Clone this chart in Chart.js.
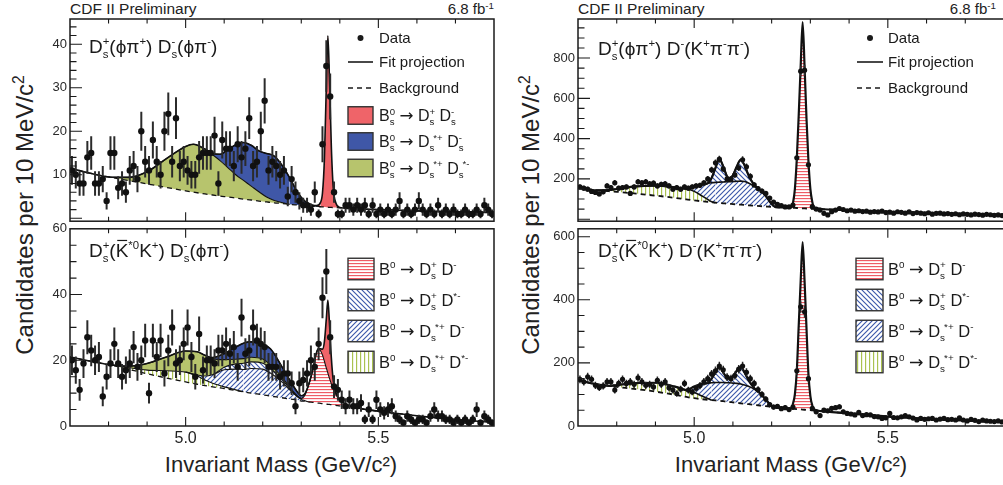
<!DOCTYPE html>
<html lang="en">
<head>
<meta charset="UTF-8">
<title>CDF II Preliminary - Bs and B0 to DD</title>
<script src="https://cdn.jsdelivr.net/npm/chart.js@4.4.1/dist/chart.umd.min.js"></script>
<style>
  html, body { margin: 0; padding: 0; background: #fff; overflow: hidden; }
  body { width: 1003px; height: 485px; position: relative; font-family: "Liberation Sans", Arial, sans-serif; color: #222; }
  canvas { position: absolute; }
  .t { position: absolute; white-space: nowrap; line-height: 1; }
  .t sup { font-size: 0.65em; vertical-align: 0.55em; line-height: 0; }
  .yt { position: absolute; white-space: nowrap; line-height: 1; font-size: 24px; transform: translate(-50%, -50%) rotate(-90deg); }
  .yt sup { font-size: 0.65em; vertical-align: 0.6em; line-height: 0; }
  .xt { position: absolute; white-space: nowrap; line-height: 1; font-size: 22px; transform: translate(-50%, -50%); }
</style>
</head>
<body>
<div class="t" style="left:70px;top:1px;font-size:15.5px">CDF II Preliminary</div>
<div class="t" style="right:509px;top:1px;font-size:15px">6.8 fb<sup>-1</sup></div>
<div class="t" style="left:578px;top:1px;font-size:15.5px">CDF II Preliminary</div>
<div class="t" style="right:7px;top:1px;font-size:15px">6.8 fb<sup>-1</sup></div>
<div class="yt" style="left:25px;top:215px">Candidates per 10 MeV/c<sup>2</sup></div>
<div class="yt" style="left:531px;top:215px">Candidates per 10 MeV/c<sup>2</sup></div>
<div class="xt" style="left:281px;top:465px">Invariant Mass (GeV/c²)</div>
<div class="xt" style="left:791px;top:465px">Invariant Mass (GeV/c²)</div>

<script>
const FONT = '"Liberation Sans", Arial, sans-serif';

// histogram bins: 10 MeV wide from 4.70 to 5.80 GeV
const binCenters = Array.from({ length: 110 }, (_, i) => +(4.705 + 0.01 * i).toFixed(3));
const xLabels = [5.0, 5.5];
const xTicks = [4.8, 4.9, 5.0, 5.1, 5.2, 5.3, 5.4, 5.5, 5.6, 5.7];

// ---------- top left: Ds(phi pi) Ds(phi pi) ----------
const yLabelsTL = [10, 20, 30, 40];
const countsTL = [11,10,8,8,14,15,8,8,9,4, 15,15,7,8,6,11,12,9,20,13,
  11,18,13,10,20,24,13,23,12,13, 11,10,10,14,15,15,15,19,8,18,
  16,16,12,17,14,16,23,12,13,20, 27,11,13,12,10,11,5,9,6,4,
  3,3,2,6,1,17,35,28,6,1, 1,3,3,2,3,2,3,1,3,1,
  2,1,2,1,2,4,1,2,1,2, 4,2,1,2,1,3,1,2,1,2, 1,1,2,1,1,2,1,3,2,1];
const massTL = [4.70,4.75,4.80,4.85,4.90,4.95,5.00,5.02,5.05,5.07,5.09,5.11,5.13,5.15,5.17,5.19,5.21,5.23,5.25,5.27,5.29,5.31,5.33,
  5.34,5.35,5.355,5.36,5.365,5.369,5.373,5.378,5.383,5.39,5.40,5.45,5.50,5.55,5.60,5.65,5.70,5.75,5.80];
const bkgTL = [11.5,10.4,9.5,8.7,7.9,7.1,6.3,6.0,5.6,5.35,5.1,4.9,4.65,4.4,4.2,3.95,3.75,3.55,3.4,3.2,3.05,2.9,2.75,
  2.7,2.65,2.6,2.6,2.55,2.55,2.5,2.5,2.45,2.45,2.4,2.15,2.0,1.85,1.7,1.6,1.5,1.4,1.3];
const bsDsStarDsStarTL = [0,0,0,0.7,2.8,6.6,10.2,11.0,10.3,9.25,8.1,6.7,5.35,4.3,3.2,2.15,1.15,0.55,0.2,0,0,0,0,
  0,0,0,0,0,0,0,0,0,0,0,0,0,0,0,0,0,0,0];
const bsDsStarDsTL = [0,0,0,0,0,0,0,0,0,0.3,1.5,4.2,6.9,8.7,9.4,9.4,10.0,10.2,8.6,6.1,2.95,1.0,0.25,
  0.1,0,0,0,0,0,0,0,0,0,0,0,0,0,0,0,0,0,0];
const bsDsDsTL = [0,0,0,0,0,0,0,0,0,0,0,0,0,0,0,0,0,0,0,0,0,0,0,
  0.1,1.0,3.2,11,28,39.4,30,14,4.5,1.0,0.1,0,0,0,0,0,0,0,0];

// ---------- bottom left: Ds(K*K) Ds(phi pi) ----------
const yLabelsBL = [0, 20, 40, 60];
const countsBL = [20,17,11,19,27,23,20,21,9,15, 19,25,19,15,17,19,24,18,20,26,
  10,26,21,26,16,23,30,19,20,25, 30,21,15,28,17,20,20,19,23,23,
  25,22,24,18,33,22,23,30,26,25, 24,18,18,18,15,16,16,13,6,13,
  14,16,20,18,25,39,47,27,12,11, 8,6,8,6,6,7,2,5,2,8,
  5,4,5,6,3,2,1,3,2,1, 2,2,1,3,5,3,3,2,2,1, 2,1,2,1,2,5,1,3,2,1];
const massBL = [4.70,4.75,4.80,4.85,4.90,4.95,5.00,5.03,5.05,5.07,5.10,5.13,5.15,5.17,5.20,5.22,5.25,5.27,5.29,5.30,5.31,5.32,5.33,
  5.34,5.345,5.35,5.355,5.36,5.365,5.369,5.373,5.378,5.383,5.39,5.40,5.42,5.45,5.50,5.55,5.60,5.65,5.70,5.75,5.80];
const bkgBL = [21.0,19.8,18.7,17.3,15.9,14.6,13.4,12.7,12.3,11.9,11.4,10.8,10.4,10.0,9.5,9.1,8.6,8.2,7.9,7.6,7.5,7.3,7.2,
  7.0,6.95,6.9,6.8,6.7,6.65,6.6,6.55,6.5,6.4,6.3,6.1,5.8,5.3,4.5,3.8,3.1,2.5,2.0,1.5,1.1];
const bdDsStarDStarBL = [0,0,0,0.5,1.1,2.2,3.0,2.5,1.7,1.1,0.5,0.2,0,0,0,0,0,0,0,0,0,0,0,
  0,0,0,0,0,0,0,0,0,0,0,0,0,0,0,0,0,0,0,0,0];
const bdDsStarDBL = [0,0,0,0,0,0,0,0.3,1.2,2.6,5.2,6.3,6.8,7.5,7.8,7.0,4.8,2.8,1.0,0.5,0.2,0,0,
  0,0,0,0,0,0,0,0,0,0,0,0,0,0,0,0,0,0,0,0,0];
const bdDsDStarBL = [0,0,0,0,0,0,0,0,0,0,0.8,1.6,1.9,2.0,1.8,1.4,0.8,0.4,0.1,0,0,0,0,
  0,0,0,0,0,0,0,0,0,0,0,0,0,0,0,0,0,0,0,0,0];
const bdDsDBL = [0,0,0,0,0,0,0,0,0,0,0,0,0,0,0,0,0,0,0,0.3,1.8,5.5,10.0,
  15.5,16.6,16.0,14.8,13.0,11.0,9.5,8.0,6.3,4.8,3.2,1.9,0.6,0.1,0,0,0,0,0,0,0];
const bsDsStarDsStarBL = [0,0,0,0.4,2.0,4.2,6.4,7.1,6.3,4.9,2.3,1.4,1.4,1.4,1.3,1.1,0.7,0.4,0.15,0,0,0,0,
  0,0,0,0,0,0,0,0,0,0,0,0,0,0,0,0,0,0,0,0,0];
const bsDsStarDsBL = [0,0,0,0,0,0,0,0,0,0.3,1.8,3.7,4.7,4.7,4.4,4.9,3.1,2.2,1.2,0.8,0.4,0.1,0,
  0,0,0,0,0,0,0,0,0,0,0,0,0,0,0,0,0,0,0,0,0];
const bsDsDsBL = [0,0,0,0,0,0,0,0,0,0,0,0,0,0,0,0,0,0,0,0,0,0,0,
  0,0,0.6,1.8,6,15,22.2,17,8,2.6,0.6,0,0,0,0,0,0,0,0,0,0];

// ---------- right panels: B0 -> D(K pi pi) ----------
const massR = [4.70,4.75,4.78,4.80,4.85,4.90,4.95,4.98,5.00,5.02,5.035,5.045,5.055,5.065,5.075,5.085,5.092,5.10,5.11,5.12,
  5.13,5.14,5.155,5.17,5.185,5.20,5.21,5.23,5.25,5.256,5.26,5.265,5.27,5.275,5.28,5.285,5.29,5.295,5.30,5.305,
  5.31,5.35,5.40,5.50,5.60,5.70,5.80];

const yLabelsTR = [200, 400, 600, 800];
const countsTR = [160,154,149,138,133,125,136,165,157,181, 154,157,160,128,160,186,181,186,176,179,
  165,173,176,165,149,157,149,160,154,160, 165,168,180,200,245,280,298,250,200,200,
  220,255,295,260,213,170,152,140,128,105, 85,74,68,61,61,70,305,735,740,270,
  62,50,45,29,21,37,45,53,48,42, 45,40,42,38,40,35,38,36,40,33,
  35,30,37,34,30,36,28,33,30,27, 32,25,29,30,26,28,24,27,22,26, 24,21,25,23,20,24,22,19,21,18];
const bkgTR = [157,143,139,136,127,117,106,98,93,89, 86,84,82,80.5,79,77.5,76.5,75,73.5,72,
  70.5,69,67,65,63,61,60,58.5,57,56.5, 56,55.5,55,54.5,54,53.5,53,52.5,52,51.5, 51,48,44,37,31,26,21];
const bdDsStarDStarTR = [0,0,6,14,36,49,52,53,45,27, 12,3,0,0,0,0,0,0,0,0,
  0,0,0,0,0,0,0,0,0,0, 0,0,0,0,0,0,0,0,0,0, 0,0,0,0,0,0,0];
const bdDsStarDTR = [0,0,0,0,0,0,0,0,22,56, 80,94,101,103.5,106,108.5,109.5,112,114.5,117,
  116.5,111,98,80,52,14,0,0,0,0, 0,0,0,0,0,0,0,0,0,0, 0,0,0,0,0,0,0];
const bdDsDStarTR = [0,0,0,0,0,0,0,0,0,0, 0,24,72,115,77,26,17,31,73.5,106,
  81,40,5,0,0,0,0,0,0,0, 0,0,0,0,0,0,0,0,0,0, 0,0,0,0,0,0,0];
const bdDsDTR = [0,0,0,0,0,0,0,0,0,0, 0,0,0,0,0,0,0,0,0,0,
  0,0,0,0,0,0,0,0,0,33.5, 94,244.5,465,705.5,925,706.5,447,237.5,98,33.5, 7,0,0,0,0,0,0];

const yLabelsBR = [0, 200, 400, 600];
const countsBR = [148,140,156,148,129,122,127,140,140,114, 135,148,135,140,132,153,140,129,132,124,
  145,132,140,121,114,103,117,135,114,108, 120,128,140,150,165,175,190,178,155,150,
  160,180,190,170,150,135,115,100,85,68, 60,62,55,58,52,60,175,378,362,150,
  56,45,33,50,48,56,58,61,45,40, 38,35,43,33,36,35,30,29,24,26,
  40,27,26,29,33,29,25,19,24,21, 23,24,19,22,24,20,21,19,26,19, 16,21,18,14,19,16,15,14,16,13];
const bkgBR = [145,132,127,124,117,109,99,92,88,85, 83,82,81,80,78.5,77,76,75,73.5,72,
  70.5,69,67,65,63,61,60,58,55,54.5, 54,53.5,53,52.5,52,51.5,51,50.5,50,49.5, 49,45,40,30,23,17,12];
const bdDsStarDStarBR = [0,0,0,6,19,28,26,22,18,10, 4,0,0,0,0,0,0,0,0,0,
  0,0,0,0,0,0,0,0,0,0, 0,0,0,0,0,0,0,0,0,0, 0,0,0,0,0,0,0];
const bdDsStarDBR = [0,0,0,0,0,0,0,0,19,38, 49,55,57,58,59.5,60,61,61,61.5,61,
  59.5,57,50,39,21,2,0,0,0,0, 0,0,0,0,0,0,0,0,0,0, 0,0,0,0,0,0,0];
const bdDsDStarBR = [0,0,0,0,0,0,0,0,0,0, 0,13,32,50,32,15,13,22,40,55,
  40,20,3,0,0,0,0,0,0,0, 0,0,0,0,0,0,0,0,0,0, 0,0,0,0,0,0,0];
const bdDsDBR = [0,0,0,0,0,0,0,0,0,0, 0,0,0,0,0,0,0,0,0,0,
  0,0,0,0,0,0,0,0,0,20.5, 46,121.5,267,407.5,531,408.5,259,114.5,45,15.5, 3,0,0,0,0,0,0];

// ---------- fills ----------
function hatch(kind, color) {
  const s = kind === 'h' ? 3 : (kind === 'v' ? 4 : 5);
  const c = document.createElement('canvas');
  c.width = s; c.height = s;
  const g = c.getContext('2d');
  g.fillStyle = '#fff';
  g.fillRect(0, 0, s, s);
  g.strokeStyle = color;
  g.lineWidth = 1.15;
  g.beginPath();
  if (kind === 'h') { g.moveTo(0, 0.6); g.lineTo(s, 0.6); }
  else if (kind === 'v') { g.moveTo(0.6, 0); g.lineTo(0.6, s); }
  else if (kind === '/') {
    g.moveTo(-1, s + 1); g.lineTo(s + 1, -1);
    g.moveTo(-1, 1); g.lineTo(1, -1);
    g.moveTo(s - 1, s + 1); g.lineTo(s + 1, s - 1);
  } else {
    g.moveTo(-1, -1); g.lineTo(s + 1, s + 1);
    g.moveTo(s - 1, -1); g.lineTo(s + 1, 1);
    g.moveTo(-1, s - 1); g.lineTo(1, s + 1);
  }
  g.stroke();
  return g.createPattern(c, 'repeat');
}
const F = {
  red: '#ef6469',
  blue: '#3f57a7',
  olive: '#b7c46d',
  redH: hatch('h', '#ee5c66'),
  blueA: hatch('/', '#3d59aa'),
  blueB: hatch('\\', '#3d59aa'),
  greenV: hatch('v', '#a8c14c')
};

// ---------- text helpers ----------
const S = (sup, sub, after) => ({ sup, sub, after });
const ARROW = { arrow: true };

function richText(ctx, x, y, parts, size) {
  let cx = x;
  const small = size * 0.6;
  ctx.fillStyle = '#1a1a1a';
  ctx.strokeStyle = '#1a1a1a';
  ctx.textAlign = 'left';
  ctx.textBaseline = 'alphabetic';
  parts.forEach(p => {
    if (typeof p === 'string') {
      ctx.font = size + 'px ' + FONT;
      ctx.fillText(p, cx, y);
      cx += ctx.measureText(p).width;
    } else if (p.arrow) {
      ctx.font = (size * 1.05) + 'px "DejaVu Sans"';
      ctx.fillText('→', cx, y);
      cx += ctx.measureText('→').width;
    } else if (p.over) {
      ctx.font = size + 'px ' + FONT;
      const w = ctx.measureText(p.over).width;
      ctx.fillText(p.over, cx, y);
      ctx.beginPath();
      ctx.lineWidth = 1.2;
      ctx.moveTo(cx + w * 0.12, y - size * 0.87);
      ctx.lineTo(cx + w * 0.9, y - size * 0.87);
      ctx.stroke();
      cx += w;
    } else {
      ctx.font = small + 'px ' + FONT;
      const ws = p.sub ? ctx.measureText(p.sub).width : 0;
      const sx = cx + (p.after ? ws * 0.8 : 0);
      let w = ws;
      if (p.sup) {
        ctx.fillText(p.sup, sx, y - size * 0.4);
        w = Math.max(w, sx - cx + ctx.measureText(p.sup).width);
      }
      if (p.sub) ctx.fillText(p.sub, cx, y + size * 0.25);
      cx += w;
    }
  });
}

const legendTop = [
  { kind: 'dot', y: 38, text: ['Data'] },
  { kind: 'line', y: 62, text: ['Fit projection'] },
  { kind: 'dash', y: 88, text: ['Background'] }
];
const legendB0 = [
  ['B', S('0'), ' ', ARROW, ' D', S('+', 's'), ' D', S('-')],
  ['B', S('0'), ' ', ARROW, ' D', S('+', 's'), ' D', S('*-')],
  ['B', S('0'), ' ', ARROW, ' D', S('*+', 's', true), ' D', S('-')],
  ['B', S('0'), ' ', ARROW, ' D', S('*+', 's', true), ' D', S('*-')]
];

// ---------- panels ----------
const panels = [
  {
    id: 'tl', left: 0, top: 0, w: 505, h: 232, pad: { top: 19, right: 11, bottom: 4, left: 0 },
    yW: 70, showX: false, yMin: -0.67, yMax: 45.8, yLabels: yLabelsTL, yMajor: 10, yMinor: 2,
    xs: massTL, bkg: bkgTL, counts: countsTL, r: 3.2, errW: 2, lineW: 1.6, compW: 1.1,
    comps: [
      { d: bsDsStarDsStarTL, f: F.olive },
      { d: bsDsStarDsTL, f: F.blue },
      { d: bsDsDsTL, f: F.red }
    ],
    label: { x: 89, y: 53, size: 19, parts: ['D', S('+', 's'), '(ϕπ', S('+'), ') D', S('-', 's'), '(ϕπ', S('-'), ')'] },
    legend: {
      sx: 348, sw: 25, tx: 379, size: 15, boxSize: 16, boxH: 17.5,
      items: legendTop.concat([
        { kind: 'box', y: 115.5, f: F.red, text: ['B', S('0', 's'), ' ', ARROW, ' D', S('+', 's'), ' D', S('-', 's')] },
        { kind: 'box', y: 141.5, f: F.blue, text: ['B', S('0', 's'), ' ', ARROW, ' D', S('*+', 's', true), ' D', S('-', 's')] },
        { kind: 'box', y: 168, f: F.olive, text: ['B', S('0', 's'), ' ', ARROW, ' D', S('*+', 's', true), ' D', S('*-', 's', true)] }
      ])
    }
  },
  {
    id: 'bl', left: 0, top: 218, w: 505, h: 267, pad: { top: 10, right: 11, bottom: 0, left: 0 },
    yW: 70, showX: true, xH: 59, yMin: 0, yMax: 60, yLabels: yLabelsBL, yMajor: 20, yMinor: 5,
    xs: massBL, bkg: bkgBL, counts: countsBL, r: 3.2, errW: 2, lineW: 1.6, compW: 1.1,
    comps: [
      { d: bdDsStarDStarBL, f: F.greenV },
      { d: bdDsStarDBL, f: F.blueA },
      { d: bdDsDStarBL, f: F.blueB },
      { d: bdDsDBL, f: F.redH },
      { d: bsDsStarDsStarBL, f: F.olive },
      { d: bsDsStarDsBL, f: F.blue },
      { d: bsDsDsBL, f: F.red }
    ],
    label: { x: 89, y: 257, size: 19, parts: ['D', S('+', 's'), '(', { over: 'K' }, S('*0'), 'K', S('+'), ') D', S('-', 's'), '(ϕπ', S('-'), ')'] },
    legend: {
      sx: 348, sw: 26, tx: 379, size: 15, boxSize: 16.5, boxH: 21.5,
      items: [
        { kind: 'box', y: 269, f: F.redH, text: legendB0[0] },
        { kind: 'box', y: 300, f: F.blueB, text: legendB0[1] },
        { kind: 'box', y: 331, f: F.blueA, text: legendB0[2] },
        { kind: 'box', y: 362, f: F.greenV, text: legendB0[3] }
      ]
    }
  },
  {
    id: 'tr', left: 505, top: 0, w: 505, h: 232, pad: { top: 19, right: 6, bottom: 4, left: 0 },
    yW: 73, showX: false, yMin: -10, yMax: 994, yLabels: yLabelsTR, yMajor: 200, yMinor: 50,
    xs: massR, bkg: bkgTR, counts: countsTR, r: 2.6, errW: 1.5, lineW: 2.2, compW: 1.6,
    comps: [
      { d: bdDsStarDStarTR, f: F.greenV },
      { d: bdDsStarDTR, f: F.blueA },
      { d: bdDsDStarTR, f: F.blueB },
      { d: bdDsDTR, f: F.redH }
    ],
    label: { x: 598, y: 55, size: 19, parts: ['D', S('+', 's'), '(ϕπ', S('+'), ') D', S('-'), '(K', S('+'), 'π', S('-'), 'π', S('-'), ')'] },
    legend: { sx: 857, sw: 26, tx: 888, size: 15, items: legendTop }
  },
  {
    id: 'br', left: 505, top: 218, w: 505, h: 267, pad: { top: 10, right: 6, bottom: 0, left: 0 },
    yW: 73, showX: true, xH: 59, yMin: 0, yMax: 625, yLabels: yLabelsBR, yMajor: 200, yMinor: 50,
    xs: massR, bkg: bkgBR, counts: countsBR, r: 2.6, errW: 1.5, lineW: 2.2, compW: 1.6,
    comps: [
      { d: bdDsStarDStarBR, f: F.greenV },
      { d: bdDsStarDBR, f: F.blueA },
      { d: bdDsDStarBR, f: F.blueB },
      { d: bdDsDBR, f: F.redH }
    ],
    label: { x: 598, y: 257, size: 19, parts: ['D', S('+', 's'), '(', { over: 'K' }, S('*0'), 'K', S('+'), ') D', S('-'), '(K', S('+'), 'π', S('-'), 'π', S('-'), ')'] },
    legend: {
      sx: 856, sw: 27, tx: 888, size: 15, boxSize: 16.5, boxH: 21.5,
      items: [
        { kind: 'box', y: 269, f: F.redH, text: legendB0[0] },
        { kind: 'box', y: 300, f: F.blueB, text: legendB0[1] },
        { kind: 'box', y: 331, f: F.blueA, text: legendB0[2] },
        { kind: 'box', y: 362, f: F.greenV, text: legendB0[3] }
      ]
    }
  }
];

function panelPlugin(p) {
  return {
    id: 'panel_' + p.id,
    // Poisson error bars, drawn just before the data markers
    beforeDatasetDraw(chart, args) {
      if (args.index !== 0) return;
      const { ctx, chartArea: a, scales: { x, y } } = chart;
      ctx.save();
      ctx.beginPath();
      ctx.rect(a.left, a.top, a.width, a.height);
      ctx.clip();
      ctx.strokeStyle = '#2b2b2b';
      ctx.lineWidth = p.errW;
      ctx.beginPath();
      binCenters.forEach((m, i) => {
        const n = p.counts[i];
        const e = Math.sqrt(n);
        const px = x.getPixelForValue(m);
        ctx.moveTo(px, y.getPixelForValue(n - e));
        ctx.lineTo(px, y.getPixelForValue(n + e));
      });
      ctx.stroke();
      ctx.restore();
    },
    afterDraw(chart) {
      const { ctx, chartArea: a, scales: { x, y } } = chart;
      ctx.save();
      // ticks inside the frame
      ctx.strokeStyle = '#1a1a1a';
      ctx.lineWidth = 1.1;
      ctx.beginPath();
      xTicks.forEach(v => {
        const px = x.getPixelForValue(v);
        const L = xLabels.includes(v) ? 9 : 4.5;
        ctx.moveTo(px, a.bottom); ctx.lineTo(px, a.bottom - L);
        ctx.moveTo(px, a.top); ctx.lineTo(px, a.top + L);
      });
      for (let v = 0; v < p.yMax; v += p.yMinor) {
        if (v <= p.yMin) continue;
        const py = y.getPixelForValue(v);
        const L = v % p.yMajor === 0 ? 12 : 6.5;
        ctx.moveTo(a.left, py); ctx.lineTo(a.left + L, py);
      }
      ctx.stroke();
      ctx.lineWidth = 1.5;
      ctx.strokeRect(a.left, a.top, a.width, a.height);

      // panel label
      const ox = p.left, oy = p.top;
      richText(ctx, p.label.x - ox, p.label.y - oy, p.label.parts, p.label.size);

      // legend
      const L = p.legend;
      L.items.forEach(it => {
        const cy = it.y - oy;
        const x1 = L.sx - ox, x2 = L.sx + L.sw - ox;
        ctx.save();
        ctx.strokeStyle = '#1a1a1a';
        ctx.fillStyle = '#1a1a1a';
        if (it.kind === 'dot') {
          ctx.beginPath();
          ctx.arc((x1 + x2) / 2, cy, 3, 0, Math.PI * 2);
          ctx.fill();
        } else if (it.kind === 'line' || it.kind === 'dash') {
          ctx.lineWidth = it.kind === 'line' ? 1.6 : 1.3;
          if (it.kind === 'dash') ctx.setLineDash([5, 4]);
          ctx.beginPath();
          ctx.moveTo(x1, cy); ctx.lineTo(x2, cy);
          ctx.stroke();
        } else {
          const h = L.boxH;
          ctx.fillStyle = it.f;
          ctx.fillRect(x1, cy - h / 2, L.sw, h);
          ctx.strokeStyle = '#333';
          ctx.lineWidth = 1.4;
          ctx.strokeRect(x1, cy - h / 2, L.sw, h);
        }
        ctx.restore();
        const size = it.kind === 'box' ? L.boxSize : L.size;
        richText(ctx, L.tx - ox, cy + size * 0.36, it.text, size);
      });
      ctx.restore();
    }
  };
}

function buildPanel(p) {
  const cv = document.createElement('canvas');
  cv.width = p.w;
  cv.height = p.h;
  cv.style.left = p.left + 'px';
  cv.style.top = p.top + 'px';
  document.body.appendChild(cv);

  const pts = ys => p.xs.map((m, i) => ({ x: m, y: ys[i] }));
  const datasets = [
    {
      type: 'scatter', label: 'Data', stack: 'data',
      data: binCenters.map((m, i) => ({ x: m, y: p.counts[i] })),
      pointRadius: p.r, pointBackgroundColor: '#111', pointBorderColor: '#111', pointBorderWidth: 0, showLine: false
    },
    {
      type: 'line', label: 'Background', stack: 'fit', data: pts(p.bkg), fill: false,
      borderColor: '#111', borderWidth: p.compW + 0.2, borderDash: [5, 4], pointRadius: 0,
      cubicInterpolationMode: 'monotone'
    }
  ];
  p.comps.forEach((c, k) => {
    const last = k === p.comps.length - 1;
    const ds = {
      type: 'line', stack: 'fit', data: pts(c.d), fill: '-1', backgroundColor: c.f,
      borderColor: '#111', borderWidth: last ? p.lineW : p.compW, pointRadius: 0,
      cubicInterpolationMode: 'monotone'
    };
    // outline only where the component contributes; the top one traces the full fit
    if (!last) {
      ds.segment = {
        borderColor: s => (c.d[s.p0DataIndex] === 0 && c.d[s.p1DataIndex] === 0) ? 'rgba(0,0,0,0)' : '#111'
      };
    }
    datasets.push(ds);
  });

  new Chart(cv, {
    type: 'line',
    data: { datasets },
    options: {
      responsive: false,
      animation: false,
      events: [],
      layout: { padding: p.pad },
      plugins: {
        legend: { display: false },
        tooltip: { enabled: false },
        filler: { drawTime: 'beforeDatasetsDraw' }
      },
      scales: {
        x: {
          type: 'linear', min: 4.7, max: 5.8, display: p.showX,
          grid: { display: false, drawTicks: false }, border: { display: false },
          ticks: { color: '#222', font: { family: FONT, size: 16 }, padding: 3, autoSkip: false, maxRotation: 0,
            callback: v => v.toFixed(1) },
          afterBuildTicks: s => { s.ticks = xLabels.map(v => ({ value: v })); },
          afterFit: s => { if (p.xH) s.height = p.xH; }
        },
        y: {
          type: 'linear', stacked: true, min: p.yMin, max: p.yMax,
          grid: { display: false, drawTicks: false }, border: { display: false },
          ticks: { color: '#2a2a2a', font: { family: FONT, size: 13 }, padding: 3, autoSkip: false },
          afterBuildTicks: s => { s.ticks = p.yLabels.map(v => ({ value: v })); },
          afterFit: s => { s.width = p.yW; }
        }
      }
    },
    plugins: [panelPlugin(p)]
  });
}

panels.forEach(buildPanel);
</script>
</body>
</html>
